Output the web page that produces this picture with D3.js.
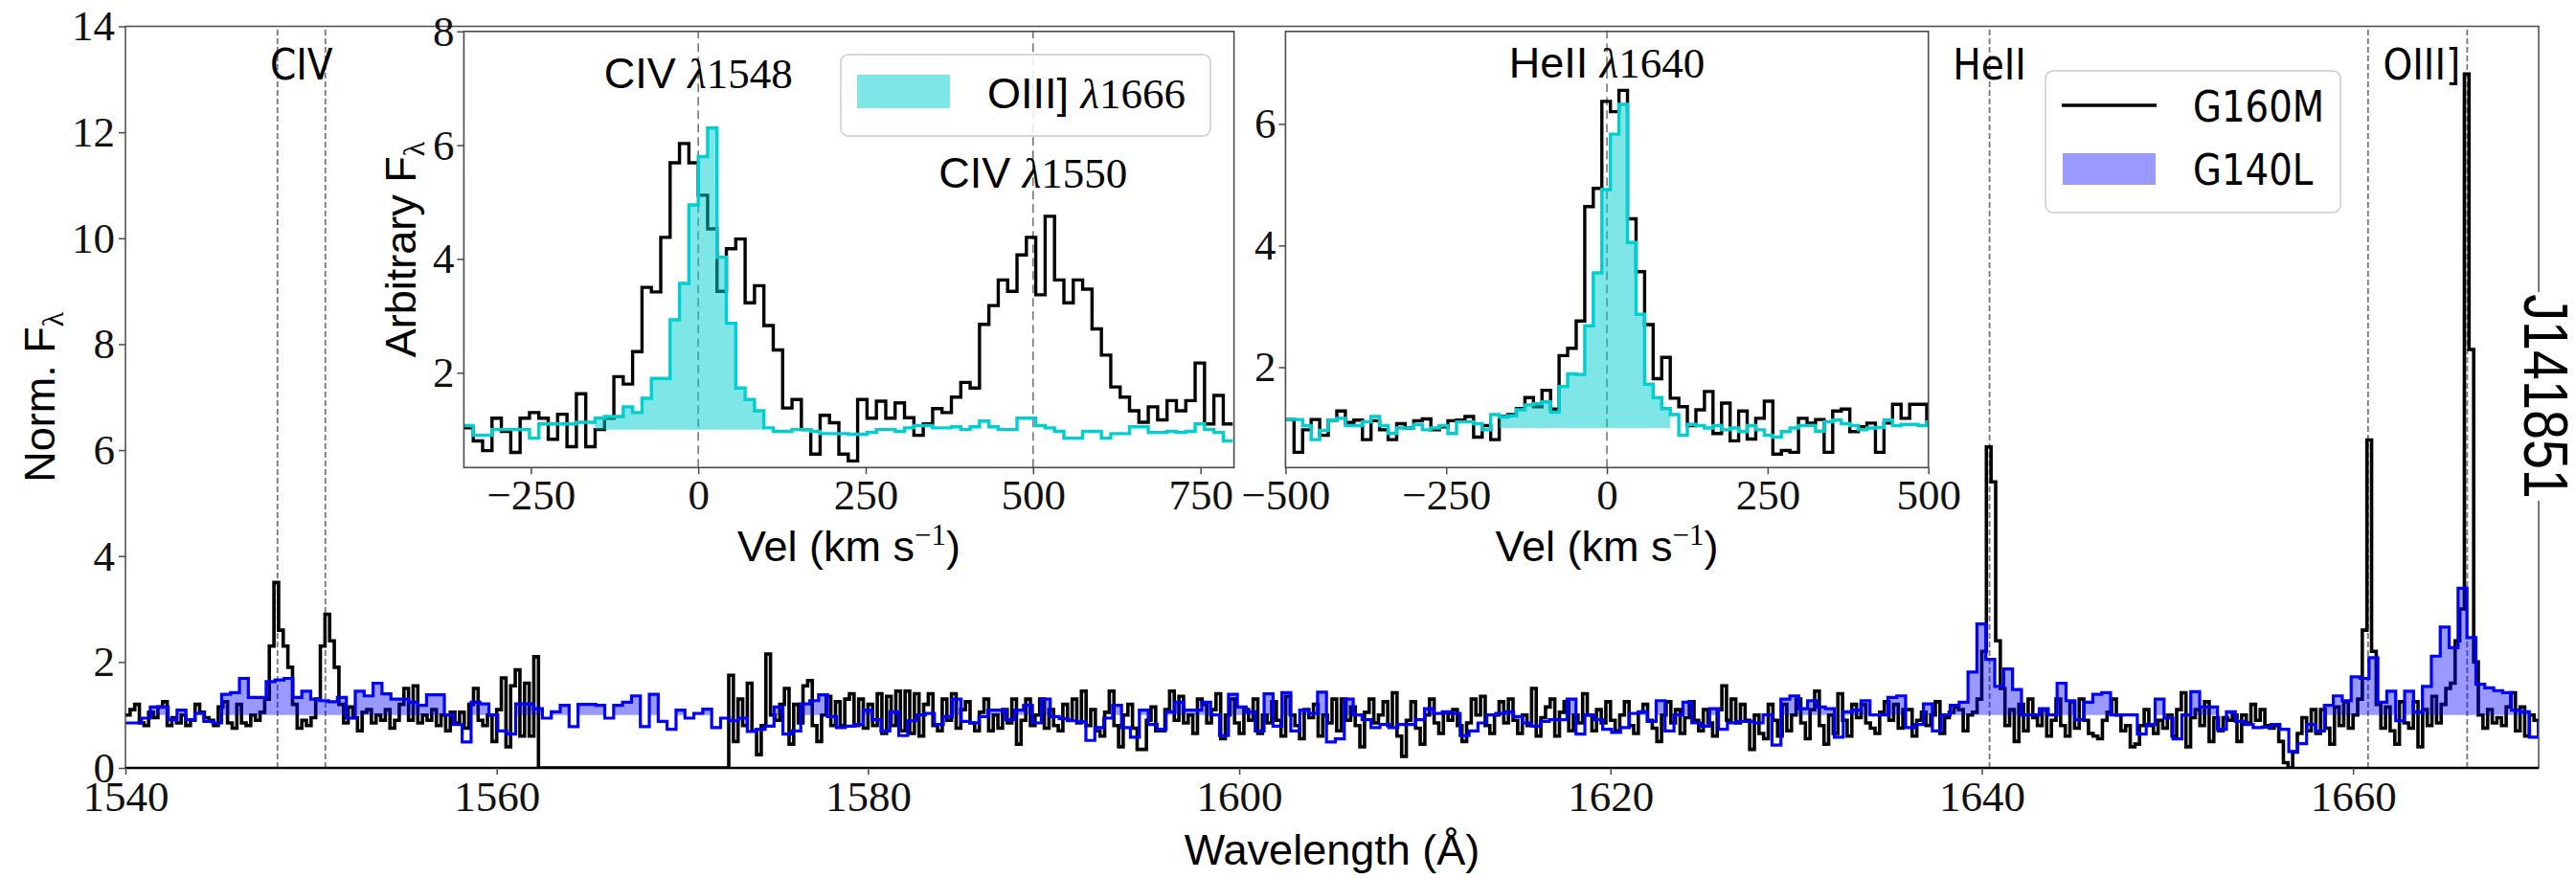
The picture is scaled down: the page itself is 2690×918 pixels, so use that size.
<!DOCTYPE html>
<html>
<head>
<meta charset="utf-8">
<script src="https://cdn.jsdelivr.net/npm/d3@7"></script>
<style>
  html, body { margin: 0; padding: 0; background: #fff; }
  svg { display: block; }
</style>
</head>
<body>
<svg id="chart" width="2690" height="918"></svg>
<script>
// ---------------- data ----------------
// G160M spectrum (normalised flux), 0.25 Å bins, values listed from each chunk's start wavelength
const g160mStep = 0.25;
const g160mStarts = [1540.0, 1562.25, 1572.5, 1583.75, 1605.25, 1626.5, 1648.25];
const g160mCIV = [1.0,1.1,1.2,0.85,0.8,1.05,0.95,1.15,1.25,0.8,0.95,0.85,1.0,0.8,0.9,1.2,1.05,0.95,0.9,0.8,
  1.15,1.25,0.85,0.75,1.2,0.85,0.8,1.0,0.9,1.05,1.3,2.3,3.5,2.6,2.3,1.9,1.2,0.75,0.9,0.8,
  0.95,1.3,2.3,2.9,2.4,1.9,1.2,0.85,1.15,0.95,0.7,1.05,1.1,0.85,1.0,0.9,1.1,0.75,0.9,1.2,
  1.5,0.9,1.55,0.85,1.0,0.9,1.1,0.8,1.0,0.7,1.05,0.85,1.05,0.75,1.2,1.5,0.9,0.8,1.0,0.5,
  1.1,1.7,0.4,1.55,1.85,0.6,1.6,0.6,2.1];
// detector gap: no G160M coverage
const g160mGap = [0,0,0,0,0,0,0,0,0,0,0,0,0,0,0,0,0,0,0,0,0,0,0,0,0,0,0,0,0,0,0,0,0,0,0,0,0,0,0,0,0];
const g160mBlueEnd = [1.75,0.5,1.3,0.8,1.6,0.7,0.25,0.8,2.15,1.0,0.9,1.2,1.5,0.45,1.2,0.85,1.55,1.65,0.8,0.5,
  1.0,1.35,0.8,1.25,0.8,1.3,1.4,0.8,1.3,0.75,1.2,0.8,1.4,0.65,1.35,0.8,1.45,0.7,1.45,0.65,
  1.4,0.6,1.2,1.4,0.8];
const g160mMid1 = [0.7,1.3,0.9,1.4,0.75,1.1,1.25,0.85,0.7,1.05,1.3,0.7,1.0,0.75,1.1,0.85,1.3,0.45,0.9,1.3,
  0.8,1.0,1.3,0.75,1.1,0.8,0.7,1.2,0.9,1.3,0.85,1.45,0.8,1.1,0.7,0.6,1.05,1.45,0.8,0.4,
  1.0,1.2,0.75,0.35,0.35,0.9,1.15,0.7,0.7,1.1,1.45,0.9,1.35,0.85,1.0,0.65,1.3,1.2,0.85,1.1,
  1.4,0.55,1.0,1.3,0.85,0.65,1.1,0.9,1.3,0.65,1.0,0.85,1.25,0.9,0.6,1.35,1.0,0.8,0.55,1.1,
  0.95,1.2,0.6,1.0,0.85,1.3];
const g160mMid2 = [0.7,1.3,0.9,1.15,0.8,0.4,1.05,1.3,0.85,1.0,1.25,0.8,1.42,0.6,0.22,0.9,1.25,0.75,0.45,1.0,
  1.3,0.85,0.65,1.05,0.9,1.1,0.8,0.5,0.85,1.3,1.0,1.35,0.8,0.65,1.0,1.25,0.85,1.3,0.9,0.65,
  1.0,0.8,1.5,0.6,0.95,1.15,1.3,0.6,1.05,1.25,0.7,1.0,0.85,1.4,1.0,0.7,1.1,0.85,1.25,0.9,
  0.7,1.0,1.25,0.8,0.65,1.05,1.2,0.9,0.75,0.5,1.0,1.25,0.85,1.1,0.65,0.95,1.25,0.9,0.7,1.1,
  0.85,0.6,1.1,1.55,0.9];
const g160mHeII = [1.3,0.85,1.2,0.9,0.35,1.0,0.65,0.55,1.2,0.9,0.6,1.2,0.7,1.0,1.3,0.85,0.55,1.1,1.45,0.8,
  0.45,1.0,0.65,1.4,0.9,0.6,1.2,0.95,1.2,0.85,0.75,0.65,1.05,1.25,0.9,1.2,0.75,1.1,1.1,0.6,
  0.9,1.05,0.8,1.0,1.25,0.65,0.95,1.05,1.15,1.1,0.7,1.0,1.05,1.3,2.2,6.06,5.4,2.4,1.5,0.8,
  1.1,0.5,1.2,0.7,1.3,0.95,0.8,1.1,0.6,0.9,1.3,0.8,0.6,1.25,0.75,1.3,0.9,0.65,0.6,0.55,
  0.9,1.05,1.3,1.0,0.7,0.8,0.4];
const g160mOIII = [0.45,0.8,1.1,0.8,0.65,0.9,0.75,1.0,0.6,1.1,1.42,0.4,0.95,1.1,0.8,1.25,0.5,0.95,0.7,0.95,
  0.9,1.0,0.5,1.0,0.85,1.2,0.9,1.1,0.8,0.75,0.8,0.5,0.1,0.0,0.3,0.65,0.95,0.7,1.1,0.65,
  1.1,0.75,0.45,1.15,0.8,1.25,0.75,1.0,1.3,2.6,6.19,2.2,1.2,0.75,1.15,0.7,0.45,1.25,0.85,0.75,
  1.25,0.4,1.1,0.8,1.35,0.85,1.2,1.5,1.6,2.4,3.0,13.1,7.9,2.0,1.0,0.75,1.1,0.85,0.95,0.8,
  1.15,1.42,0.7,1.15,0.6,1.0,0.9];

// G140L spectrum, 0.48 Å bins
const g140lStep = 0.48;
const g140lStarts = [1539.9, 1561.98, 1583.58, 1605.18, 1626.78, 1648.38];
const g140lA = [0.85,0.85,0.94,1.15,1.15,0.91,1.09,0.91,1.03,0.88,0.85,1.39,1.42,1.69,1.33,1.33,1.63,1.66,1.69,1.33,
  1.45,1.3,1.27,1.25,1.33,0.94,1.45,1.36,1.6,1.4,1.3,1.3,1.24,1.18,1.38,1.38,1.0,0.82,0.49,1.24,
  1.21,1.0,0.7,0.64,1.21,1.21];
const g140lB = [1.12,0.94,1.06,1.18,0.78,1.2,1.2,1.18,0.94,1.18,1.24,1.36,0.78,1.39,0.88,0.73,1.09,0.94,1.03,1.11,
  0.76,0.94,0.89,0.94,0.69,0.73,0.79,1.15,0.64,0.7,1.21,1.27,1.38,0.97,0.76,0.79,0.82,1.09,0.91,0.7,
  1.06,0.61,0.89,1.0,1.03];
const g140lC = [0.82,0.97,1.3,0.88,0.85,0.97,1.09,1.09,0.91,1.09,1.18,0.85,1.3,0.97,0.93,0.89,0.87,0.52,0.76,0.94,
  1.18,0.76,0.58,1.09,0.82,0.73,1.06,1.24,1.09,1.09,1.24,1.0,0.61,1.39,1.15,1.06,0.7,1.4,0.79,1.42,
  0.7,1.09,1.03,1.43,0.49];
const g140lD = [0.55,1.3,1.0,0.91,0.76,0.82,0.76,0.82,0.82,0.91,1.12,1.03,1.06,1.03,0.61,0.7,0.85,1.0,1.03,1.06,
  0.97,0.85,0.79,0.88,0.91,0.91,1.3,0.64,1.0,0.91,0.73,0.67,0.76,1.03,1.06,0.88,1.27,0.7,1.0,1.24,
  0.85,0.79,1.12,0.73,0.85];
const g140lE = [0.88,0.88,0.85,1.0,0.43,1.3,1.36,1.12,1.27,1.15,1.12,0.58,1.06,1.09,1.27,1.0,1.0,1.33,1.36,0.76,
  0.82,1.21,0.7,1.0,1.18,1.24,1.81,2.72,2.05,1.54,1.87,1.48,1.0,1.0,1.12,1.0,1.6,1.27,0.91,1.24,
  1.39,1.42,1.0,1.0,1.0];
const g140lF = [0.64,0.82,1.3,0.94,0.55,1.0,1.44,1.15,1.15,0.73,1.06,0.88,0.82,0.76,0.77,0.82,0.73,0.31,0.46,0.82,
  0.7,1.18,1.36,1.27,1.72,1.69,2.08,1.24,1.45,0.89,1.45,1.06,1.54,2.11,2.66,2.27,3.39,2.46,1.58,1.51,
  1.46,1.42,1.09,1.06,0.58,0.85];

// rest wavelengths marked in the main panel
const lineWaves = [1548.19, 1550.77, 1640.42, 1660.81, 1666.15];
const lineNames = ["CIV", "HeII", "OIII]"];
const lineNameWaves = [1549.48, 1640.42, 1663.7];

// inset 1: CIV doublet in velocity space (14 km/s bins from -350 km/s)
const civVelStart = -350, civVelStep = 14;
const civFlux = [1.03,0.8,0.63,1.2,0.97,0.6,1.2,1.3,1.2,0.83,1.27,0.7,1.63,0.7,1.0,1.2,1.93,1.8,2.37,3.5,
  3.42,4.38,5.69,6.03,5.69,5.12,4.53,3.43,4.18,4.35,3.23,3.53,2.83,2.4,1.38,1.53,1.0,0.57,1.25,1.12,
  0.57,0.45,1.53,1.2,1.5,1.2,1.47,1.21,0.9,1.1,1.37,1.3,1.57,1.83,1.73,2.85,3.18,3.63,3.43,4.07,
  4.38,3.37,4.75,3.63,3.23,3.63,3.47,2.77,2.31,1.75,1.57,1.33,1.13,1.4,1.17,1.51,1.33,1.51,2.17,1.1,
  1.6,1.1];
const oiiiFluxInset1 = [1.07,0.9,0.9,1.0,1.0,1.0,1.0,0.85,1.1,1.1,1.1,1.1,1.13,1.13,1.2,1.23,1.23,1.4,1.3,1.55,
  1.9,1.9,2.93,3.57,4.95,5.8,6.3,4.03,2.87,1.73,1.53,1.33,1.03,0.97,0.97,1.0,1.0,0.97,0.93,0.93,
  0.93,0.92,0.92,0.95,1.0,1.0,0.97,1.03,1.07,1.07,1.03,1.03,1.05,1.0,1.05,1.15,1.05,1.0,1.0,1.2,
  1.2,1.07,1.03,0.97,0.85,0.85,0.97,0.97,0.85,0.93,0.93,1.05,1.05,0.95,0.95,0.97,0.95,0.97,1.1,1.0,
  0.95,0.8];
const civLineVel = [0, 500];

// inset 2: HeII in velocity space (13.3 km/s bins from -500 km/s)
const heiiVelStart = -500, heiiVelStep = 13.3;
const heiiFlux = [1.14,0.6,0.97,1.14,0.88,1.13,1.28,1.09,1.13,0.81,1.12,0.97,0.81,1.07,1.0,1.12,1.15,0.97,1.02,1.12,
  1.13,1.19,0.85,1.04,0.81,1.19,1.22,1.32,1.5,1.35,1.62,1.31,2.19,2.31,2.76,4.64,4.94,6.37,6.2,6.55,
  4.44,3.57,2.7,1.81,2.16,1.49,1.35,1.04,1.3,1.6,0.91,1.41,0.79,1.28,0.82,1.16,1.44,0.57,0.63,0.6,
  1.16,1.08,1.14,0.6,1.28,1.31,0.94,1.02,1.08,0.6,1.08,1.39,1.16,1.39,1.39,1.1];
const oiiiFluxInset2 = [1.14,1.14,1.04,0.81,0.96,1.13,1.16,1.04,1.04,1.1,1.19,1.04,0.91,1.0,1.0,1.06,0.97,1.0,1.04,0.91,
  1.1,1.1,1.07,0.97,1.22,1.18,1.2,1.3,1.38,1.4,1.43,1.26,1.68,1.89,1.88,2.68,3.55,4.92,5.83,6.32,
  4.05,2.87,1.72,1.5,1.32,1.22,0.88,1.06,1.04,1.0,1.04,0.97,1.0,0.94,1.04,0.97,0.88,0.85,0.94,1.0,
  1.04,1.04,0.95,1.1,1.13,1.07,1.04,0.97,1.0,1.01,1.13,1.04,1.06,1.06,1.04,1.1];
const heiiLineVel = [0];

// tick values
const waveTicks = [1540, 1560, 1580, 1600, 1620, 1640, 1660];
const fluxTicks = [0, 2, 4, 6, 8, 10, 12, 14];
const vel1Ticks = [-250, 0, 250, 500, 750];
const arb1Ticks = [2, 4, 6, 8];
const vel2Ticks = [-500, -250, 0, 250, 500];
const arb2Ticks = [2, 4, 6];

// ---------------- helpers ----------------
const svg = d3.select("#chart");
const SERIF = '"Liberation Serif", "DejaVu Serif", serif';
const SANS = '"Liberation Sans", Arial, sans-serif';
const DJV = '"DejaVu Sans", sans-serif';
const SPINE = "#4a4a4a";

function stepPoints(starts, chunks, step) {
  const pts = [];
  chunks.forEach((vals, c) => vals.forEach((f, i) => pts.push({ x: starts[c] + i * step, f })));
  const last = pts[pts.length - 1];
  pts.push({ x: last.x + step, f: last.f });
  return pts;
}

function addText(parent, x, y, spans, opt = {}) {
  const t = parent.append("text")
    .attr("transform", `translate(${x},${y}) rotate(${opt.rotate || 0}) scale(${opt.sx || 1},1)`)
    .attr("text-anchor", opt.anchor || "middle")
    .attr("fill", "#000");
  spans.forEach(s => {
    const ts = t.append("tspan").text(s.text)
      .style("font-family", s.family).style("font-size", s.size + "px");
    if (s.dy) ts.attr("dy", s.dy);
    if (s.italic) ts.style("font-style", "italic");
  });
  return t;
}

function styleAxis(g, size) {
  g.select(".domain").remove();
  g.selectAll(".tick line").attr("stroke", SPINE).attr("stroke-width", 1.5);
  g.selectAll(".tick text").attr("fill", "#111")
    .style("font-family", SERIF).style("font-size", size + "px");
}

// ---------------- main panel ----------------
const mx = d3.scaleLinear().domain([1540, 1670]).range([131, 2651]);
const my = d3.scaleLinear().domain([0, 14]).range([802, 27.5]);

const defs = svg.append("defs");
defs.append("clipPath").attr("id", "clipMain").append("rect")
  .attr("x", mx(1540)).attr("y", my(14)).attr("width", mx(1670) - mx(1540)).attr("height", my(0) - my(14));

const main = svg.append("g");
const plot = main.append("g").attr("clip-path", "url(#clipMain)");

// dashed markers at the rest wavelengths
plot.selectAll("line.rest").data(lineWaves).join("line").attr("class", "rest")
  .attr("x1", d => mx(d)).attr("x2", d => mx(d)).attr("y1", my(0)).attr("y2", my(14))
  .attr("stroke", "#777").attr("stroke-width", 1.8).attr("stroke-dasharray", "6,3");

const blackPts = stepPoints(g160mStarts, [g160mCIV, g160mGap, g160mBlueEnd, g160mMid1, g160mMid2, g160mHeII, g160mOIII], g160mStep);
const bluePts = stepPoints(g140lStarts, [g140lA, g140lB, g140lC, g140lD, g140lE, g140lF], g140lStep);

const mainLine = d3.line().x(d => mx(d.x)).y(d => my(d.f)).curve(d3.curveStepAfter);
const mainFill = d3.area().x(d => mx(d.x)).y0(my(1)).y1(d => my(Math.max(d.f, 1))).curve(d3.curveStepAfter);

plot.append("path").datum(blackPts).attr("d", mainLine)
  .attr("fill", "none").attr("stroke", "#000").attr("stroke-width", 3.6).attr("stroke-linejoin", "miter");
plot.append("path").datum(bluePts).attr("d", mainFill)
  .attr("fill", "#0000ff").attr("fill-opacity", 0.4).attr("stroke", "none");
plot.append("path").datum(bluePts).attr("d", mainLine)
  .attr("fill", "none").attr("stroke", "#0000ff").attr("stroke-width", 3.2);

// frame
main.append("rect").attr("x", mx(1540)).attr("y", my(14))
  .attr("width", mx(1670) - mx(1540)).attr("height", my(0) - my(14))
  .attr("fill", "none").attr("stroke", SPINE).attr("stroke-width", 1.5);
main.append("line").attr("x1", mx(1540)).attr("x2", mx(1670)).attr("y1", my(0)).attr("y2", my(0))
  .attr("stroke", "#000").attr("stroke-width", 2.5);

main.append("g").attr("transform", `translate(0,${my(0)})`)
  .call(d3.axisBottom(mx).tickValues(waveTicks).tickFormat(d3.format("d")).tickSize(7).tickPadding(6))
  .call(g => styleAxis(g, 45));
main.append("g").attr("transform", `translate(${mx(1540)},0)`)
  .call(d3.axisLeft(my).tickValues(fluxTicks).tickFormat(d3.format("d")).tickSize(7).tickPadding(4))
  .call(g => styleAxis(g, 45));

// line names
lineNames.forEach((name, i) => {
  addText(main, mx(lineNameWaves[i]), my(13), [{ text: name, family: DJV, size: 45 }], { sx: 0.87 });
});

// axis titles
addText(svg, 57, (my(0) + my(14)) / 2, [
  { text: "Norm. F", family: SANS, size: 45 },
  { text: "λ", family: SERIF, size: 32, dy: 9 }
], { rotate: -90 });
addText(svg, (mx(1540) + mx(1670)) / 2, 903, [{ text: "Wavelength (Å)", family: SANS, size: 45 }]);

// legend
const leg = svg.append("g");
leg.append("rect").attr("x", 2136).attr("y", 74).attr("width", 308).attr("height", 148).attr("rx", 8)
  .attr("fill", "#fff").attr("fill-opacity", 0.85).attr("stroke", "#cccccc").attr("stroke-width", 1.5);
leg.append("line").attr("x1", 2153).attr("x2", 2252).attr("y1", 110).attr("y2", 110)
  .attr("stroke", "#000").attr("stroke-width", 3.6);
leg.append("rect").attr("x", 2154).attr("y", 160).attr("width", 97).attr("height", 33)
  .attr("fill", "#0000ff").attr("fill-opacity", 0.4);
addText(leg, 2290, 127, [{ text: "G160M", family: DJV, size: 45 }], { anchor: "start", sx: 0.86 });
addText(leg, 2290, 193, [{ text: "G140L", family: DJV, size: 45 }], { anchor: "start", sx: 0.86 });

// ---------------- insets ----------------
function drawInset(cfg) {
  const { x, y, id } = cfg;
  const [x0, x1] = x.range(), [yb, yt] = y.range();
  defs.append("clipPath").attr("id", id).append("rect")
    .attr("x", x0).attr("y", yt).attr("width", x1 - x0).attr("height", yb - yt);
  const g = svg.append("g");
  g.append("rect").attr("x", x0).attr("y", yt).attr("width", x1 - x0).attr("height", yb - yt).attr("fill", "#fff");
  const p = g.append("g").attr("clip-path", `url(#${id})`);

  p.selectAll("line.mark").data(cfg.marks).join("line").attr("class", "mark")
    .attr("x1", d => x(d)).attr("x2", d => x(d)).attr("y1", yb).attr("y2", yt)
    .attr("stroke", "#777").attr("stroke-width", 1.6).attr("stroke-dasharray", "9,5");

  const line = d3.line().x(d => x(d.x)).y(d => y(d.f)).curve(d3.curveStepAfter);
  const blk = stepPoints([cfg.start], [cfg.black], cfg.step);
  const cyn = stepPoints([cfg.start], [cfg.cyan], cfg.step);
  const [lo, hi] = cfg.fillRange;
  const fillPts = cyn.filter(d => d.x >= lo - 1e-6 && d.x < hi - 1e-6);
  fillPts.push({ x: hi, f: fillPts[fillPts.length - 1].f });
  const area = d3.area().x(d => x(d.x)).y0(y(1)).y1(d => y(Math.max(d.f, 1))).curve(d3.curveStepAfter);

  p.append("path").datum(blk).attr("d", line).attr("fill", "none").attr("stroke", "#000").attr("stroke-width", 3.4);
  p.append("path").datum(fillPts).attr("d", area).attr("fill", "#00ced1").attr("fill-opacity", 0.5);
  p.append("path").datum(cyn).attr("d", line).attr("fill", "none").attr("stroke", "#00ced1").attr("stroke-width", 3.4);

  g.append("rect").attr("x", x0).attr("y", yt).attr("width", x1 - x0).attr("height", yb - yt)
    .attr("fill", "none").attr("stroke", SPINE).attr("stroke-width", 1.6);
  g.append("g").attr("transform", `translate(0,${yb})`)
    .call(d3.axisBottom(x).tickValues(cfg.xticks).tickFormat(d3.format("d")).tickSize(7).tickPadding(5))
    .call(a => styleAxis(a, 45));
  g.append("g").attr("transform", `translate(${x0},0)`)
    .call(d3.axisLeft(y).tickValues(cfg.yticks).tickFormat(d3.format("d")).tickSize(7).tickPadding(3))
    .call(a => styleAxis(a, 45));

  addText(g, (x0 + x1) / 2, 586, [
    { text: "Vel (km s", family: SANS, size: 45 },
    { text: "−1", family: SERIF, size: 31, dy: -17 },
    { text: ")", family: SANS, size: 45, dy: 17 }
  ]);
  cfg.labels.forEach(l => {
    addText(g, x(l.v), y(l.f), [
      { text: l.ion + " ", family: SANS, size: 45 },
      { text: "λ", family: SERIF, size: 45, italic: true },
      { text: l.wave, family: SERIF, size: 45 }
    ]);
  });
  return g;
}

const ix1 = d3.scaleLinear().domain([-350, 800]).range([484.4, 1288.6]);
const iy1 = d3.scaleLinear().domain([0.333, 8]).range([488.3, 32.8]);
const inset1 = drawInset({
  id: "clipInset1", x: ix1, y: iy1, start: civVelStart, step: civVelStep,
  black: civFlux, cyan: oiiiFluxInset1, fillRange: [-154, 98], marks: civLineVel,
  xticks: vel1Ticks, yticks: arb1Ticks,
  labels: [{ ion: "CIV", wave: "1548", v: 0, f: 7.0 }, { ion: "CIV", wave: "1550", v: 500, f: 5.25 }]
});

// inset 1 legend
inset1.append("rect").attr("x", 878).attr("y", 57).attr("width", 386).attr("height", 85).attr("rx", 8)
  .attr("fill", "#fff").attr("fill-opacity", 0.85).attr("stroke", "#cccccc").attr("stroke-width", 1.5);
inset1.append("rect").attr("x", 895).attr("y", 78).attr("width", 97).attr("height", 35)
  .attr("fill", "#00ced1").attr("fill-opacity", 0.5);
addText(inset1, 1031, 113, [
  { text: "OIII] ", family: SANS, size: 45 },
  { text: "λ", family: SERIF, size: 45, italic: true },
  { text: "1666", family: SERIF, size: 45 }
], { anchor: "start" });
addText(inset1, 434, (iy1.range()[0] + iy1.range()[1]) / 2, [
  { text: "Arbitrary F", family: SANS, size: 45 },
  { text: "λ", family: SERIF, size: 32, dy: 9 }
], { rotate: -90 });

const ix2 = d3.scaleLinear().domain([-500, 500]).range([1342.4, 2013.7]);
const iy2 = d3.scaleLinear().domain([0.35, 7.52]).range([488.3, 32.8]);
drawInset({
  id: "clipInset2", x: ix2, y: iy2, start: heiiVelStart, step: heiiVelStep,
  black: heiiFlux, cyan: oiiiFluxInset2, fillRange: [-167.5, 98.5], marks: heiiLineVel,
  xticks: vel2Ticks, yticks: arb2Ticks,
  labels: [{ ion: "HeII", wave: "1640", v: 0, f: 6.76 }]
});

// object name on the right edge
svg.append("rect").attr("x", 2632).attr("y", 305).attr("width", 56).attr("height", 218).attr("fill", "#fff");
addText(svg, 2636, 414, [{ text: "J141851", family: SANS, size: 64 }], { rotate: 90, sx: 0.87 });
</script>
</body>
</html>
